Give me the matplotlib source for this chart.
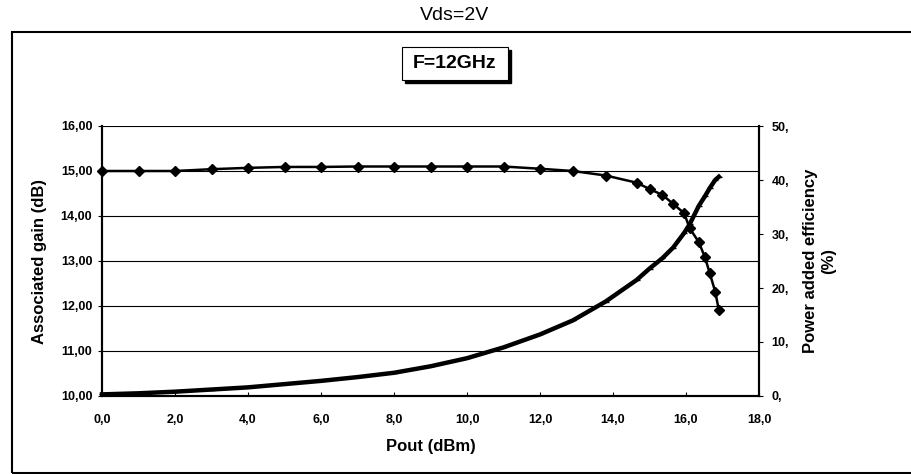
import matplotlib.pyplot as plt
from matplotlib.patches import Rectangle

# Data
pout = [0, 1, 2, 3, 4, 5, 6, 7, 8, 9, 10, 11, 12, 12.9, 13.8, 14.65, 15.0,
        15.35, 15.65, 15.95, 16.1, 16.35, 16.52, 16.65, 16.8, 16.9]
gain = [15.0, 15.0, 15.0, 15.04, 15.07, 15.09, 15.09, 15.1, 15.1, 15.1, 15.1,
        15.1, 15.05, 15.0, 14.9, 14.74, 14.6, 14.47, 14.27, 14.06, 13.73,
        13.42, 13.08, 12.73, 12.32, 11.91]
pae = [0.3, 0.5, 0.8, 1.2, 1.6, 2.2, 2.8, 3.5, 4.3, 5.5, 7.0, 9.0, 11.4, 14.0,
       17.5, 21.5, 23.6, 25.5, 27.5, 30.2, 31.8, 35.2, 37.0, 38.5, 40.0, 40.6]

x_ticks = [0, 2, 4, 6, 8, 10, 12, 14, 16, 18]
x_labels = ["0,0", "2,0", "4,0", "6,0", "8,0", "10,0", "12,0", "14,0", "16,0", "18,0"]
gain_ticks = [10, 11, 12, 13, 14, 15, 16]
gain_labels = ["10,00", "11,00", "12,00", "13,00", "14,00", "15,00", "16,00"]
pae_ticks = [0, 10, 20, 30, 40, 50]
pae_labels = ["0,", "10,", "20,", "30,", "40,", "50,"]

plt.rcParams["font.family"] = ["Liberation Sans", "DejaVu Sans"]

W, H = 911, 474
fig = plt.figure(figsize=(W / 100, H / 100), dpi=100)

# axes box in pixels: left 102, right 759, top 126, bottom 396
ax = fig.add_axes([102 / W, 1 - 396 / H, (759 - 102) / W, (396 - 126) / H])
ax2 = ax.twinx()

ax.set_xlim(0, 18)
ax.set_ylim(10, 16)
ax2.set_ylim(0, 50)

ax.yaxis.grid(True, color="black", linewidth=0.8)
ax.set_axisbelow(True)

ax.plot(pout, gain, color="black", linewidth=1.8, marker="D", markersize=5.5,
        clip_on=False, zorder=5)
ax2.plot(pout, pae, color="black", linewidth=3.2, marker="_", markersize=5,
         markeredgewidth=1, clip_on=False, zorder=4)

for a in (ax, ax2):
    a.spines["top"].set_visible(False)
    for s in ("left", "right", "bottom"):
        a.spines[s].set_linewidth(1.5)
        a.spines[s].set_color("black")

ax.set_xticks(x_ticks)
ax.set_xticklabels(x_labels, fontsize=9, fontweight="bold")
ax.set_yticks(gain_ticks)
ax.set_yticklabels(gain_labels, fontsize=9, fontweight="bold")
ax2.set_yticks(pae_ticks)
ax2.set_yticklabels(pae_labels, fontsize=9, fontweight="bold")
ax.tick_params(axis="x", direction="in", length=3, pad=13)
ax.tick_params(axis="y", direction="out", length=3, pad=4)
ax2.tick_params(axis="y", direction="out", length=3, pad=6)

ax.set_xlabel("Pout (dBm)", fontsize=12, fontweight="bold", labelpad=9)
ax.set_ylabel("Associated gain (dB)", fontsize=12, fontweight="bold", labelpad=10)
ax2.set_ylabel("Power added efficiency\n(%)", fontsize=12, fontweight="bold",
               labelpad=10, linespacing=1.3)

# outer frame
fig.patches.append(Rectangle((12 / W, 1 - 473 / H), 1.0, (473 - 32) / H,
                             transform=fig.transFigure, fill=False,
                             edgecolor="black", linewidth=1.5))

fig.text(455 / W, 1 - 16 / H, "Vds=2V", fontsize=14, ha="center", va="center")

# F=12GHz label box with shadow
bx0, bx1, by0, by1 = 402, 508, 47, 80
fig.patches.append(Rectangle(((bx0 + 3) / W, 1 - (by1 + 3) / H), (bx1 - bx0) / W,
                             (by1 - by0) / H, transform=fig.transFigure,
                             facecolor="black", edgecolor="black"))
fig.patches.append(Rectangle((bx0 / W, 1 - by1 / H), (bx1 - bx0) / W,
                             (by1 - by0) / H, transform=fig.transFigure,
                             facecolor="white", edgecolor="black", linewidth=0.8))
fig.text((bx0 + bx1) / 2 / W, 1 - (by0 + by1) / 2 / H, "F=12GHz", fontsize=14,
         fontweight="bold", ha="center", va="center")

fig.savefig("out.png", dpi=100)
